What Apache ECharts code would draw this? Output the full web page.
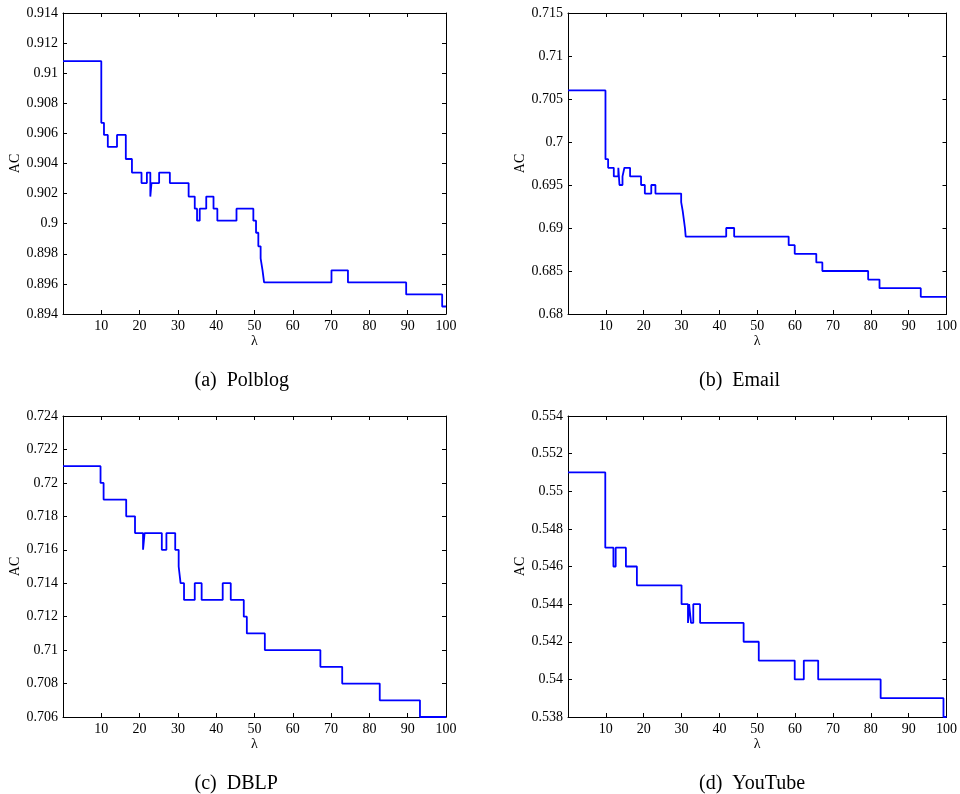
<!DOCTYPE html>
<html>
<head>
<meta charset="utf-8">
<script src="https://cdn.jsdelivr.net/npm/echarts@6/dist/echarts.min.js"></script>
<style>html,body{margin:0;padding:0;background:#fff}#c{width:960px;height:794px}</style>
</head>
<body>
<div id="c"></div>
<script>
// ---- data ----
const xTicks = [0, 10, 20, 30, 40, 50, 60, 70, 80, 90, 100];

const polblogLambda = [0, 10, 10.7, 11.7, 14.1, 16.4, 18.0, 20.5, 21.9, 22.8, 23.1, 25.1, 27.9, 32.8, 34.4, 35.0, 35.7, 37.4, 39.3, 40.3, 45.3, 49.7, 50.4, 51.0, 51.6, 52.1, 52.5, 70.1, 74.4, 89.6, 99.0, 100];
const polblogAC = [0.9108, 0.9067, 0.9059, 0.9051, 0.9059, 0.9043, 0.9034, 0.9027, 0.9034, 0.9018, 0.9027, 0.9034, 0.9027, 0.9018, 0.9010, 0.9002, 0.9010, 0.9018, 0.9010, 0.9002, 0.9010, 0.9002, 0.8994, 0.8985, 0.8977, 0.8969, 0.8961, 0.8969, 0.8961, 0.8953, 0.8945, 0.8945];

const emailLambda = [0, 9.9, 10.6, 12.1, 13.3, 13.6, 14.4, 14.9, 16.4, 19.3, 20.3, 22.0, 23.1, 29.9, 30.3, 30.6, 30.9, 31.1, 41.8, 43.9, 58.3, 59.9, 65.6, 67.2, 79.3, 82.3, 93.2, 100];
const emailAC = [0.706, 0.698, 0.697, 0.696, 0.697, 0.695, 0.696, 0.697, 0.696, 0.695, 0.694, 0.695, 0.694, 0.693, 0.692, 0.691, 0.690, 0.689, 0.690, 0.689, 0.688, 0.687, 0.686, 0.685, 0.684, 0.683, 0.682, 0.682];

const dblpLambda = [0, 9.8, 10.6, 16.5, 18.8, 20.9, 21.3, 25.8, 27.0, 29.3, 30.2, 30.7, 31.6, 34.4, 36.2, 41.7, 43.8, 47.2, 48.0, 52.7, 67.2, 72.9, 82.7, 93.2, 100];
const dblpAC = [0.721, 0.720, 0.719, 0.718, 0.717, 0.716, 0.717, 0.716, 0.717, 0.716, 0.715, 0.714, 0.713, 0.714, 0.713, 0.714, 0.713, 0.712, 0.711, 0.710, 0.709, 0.708, 0.707, 0.706, 0.706];

const youtubeLambda = [0, 9.85, 12.0, 12.6, 15.3, 18.2, 30.0, 31.7, 32.0, 32.5, 33.1, 34.9, 46.4, 50.4, 59.9, 62.3, 66.1, 82.6, 99.2, 100];
const youtubeAC = [0.551, 0.547, 0.546, 0.547, 0.546, 0.545, 0.544, 0.543, 0.544, 0.543, 0.544, 0.543, 0.542, 0.541, 0.540, 0.541, 0.540, 0.539, 0.538, 0.538];

const captions = ['(a)  Polblog', '(b)  Email', '(c)  DBLP', '(d)  YouTube'];
const yRanges = [[0.894, 0.914, 0.002], [0.68, 0.715, 0.005], [0.706, 0.724, 0.002], [0.538, 0.554, 0.002]];
// ---- layout ----
const FONT = "'Liberation Serif','Times New Roman',serif";
const grids = [
  {left: 63, top: 13, width: 383, height: 301},
  {left: 568, top: 13, width: 382, height: 301},
  {left: 63, top: 416, width: 383, height: 301},
  {left: 568, top: 416, width: 382, height: 301}
];
const datasets = [
  [polblogLambda, polblogAC],
  [emailLambda, emailAC],
  [dblpLambda, dblpAC],
  [youtubeLambda, youtubeAC]
];

const axisLine = {show: true, onZero: false, lineStyle: {color: '#000', width: 1}};
const tickIn = {show: true, inside: true, length: 4, lineStyle: {color: '#000', width: 1}};
const xAxes = [], yAxes = [], series = [], titles = [];
grids.forEach((g, i) => {
  const [ymin, ymax, yint] = yRanges[i];
  xAxes.push({
    type: 'value', gridIndex: i, min: xTicks[0], max: xTicks[xTicks.length - 1], interval: 10,
    position: 'bottom', axisLine, axisTick: tickIn, splitLine: {show: false},
    axisLabel: {showMinLabel: false, color: '#000', fontFamily: FONT, fontSize: 14, margin: 5},
    name: 'λ', nameLocation: 'middle', nameGap: 20,
    nameTextStyle: {color: '#000', fontFamily: FONT, fontSize: 14}
  });
  xAxes.push({
    type: 'value', gridIndex: i, min: xTicks[0], max: xTicks[xTicks.length - 1], interval: 10,
    position: 'top', axisLine, axisTick: tickIn, splitLine: {show: false}, axisLabel: {show: false}
  });
  yAxes.push({
    type: 'value', gridIndex: i, min: ymin, max: ymax, interval: yint, position: 'left',
    axisLine, axisTick: tickIn, splitLine: {show: false},
    axisLabel: {color: '#000', fontFamily: FONT, fontSize: 14, margin: 5},
    name: 'AC', nameLocation: 'middle', nameGap: 38,
    nameTextStyle: {color: '#000', fontFamily: FONT, fontSize: 14}
  });
  yAxes.push({
    type: 'value', gridIndex: i, min: ymin, max: ymax, interval: yint, position: 'right',
    axisLine, axisTick: tickIn, splitLine: {show: false}, axisLabel: {show: false}
  });
  const [lam, ac] = datasets[i];
  series.push({
    type: 'line', xAxisIndex: 2 * i, yAxisIndex: 2 * i, step: 'end', symbol: 'none',
    lineStyle: {color: '#0000ff', width: 1.8}, clip: false,
    data: lam.map((l, k) => [l, ac[k]])
  });
  titles.push({
    text: captions[i], left: g.left + g.width / 2 - 65, top: g.top + g.height + 52,
    textStyle: {color: '#000', fontFamily: FONT, fontSize: 20, fontWeight: 'normal'}
  });
});

const chart = echarts.init(document.getElementById('c'), null, {renderer: 'canvas'});
chart.setOption({
  animation: false,
  backgroundColor: '#fff',
  title: titles,
  grid: grids,
  xAxis: xAxes,
  yAxis: yAxes,
  series: series
});
</script>
</body>
</html>
